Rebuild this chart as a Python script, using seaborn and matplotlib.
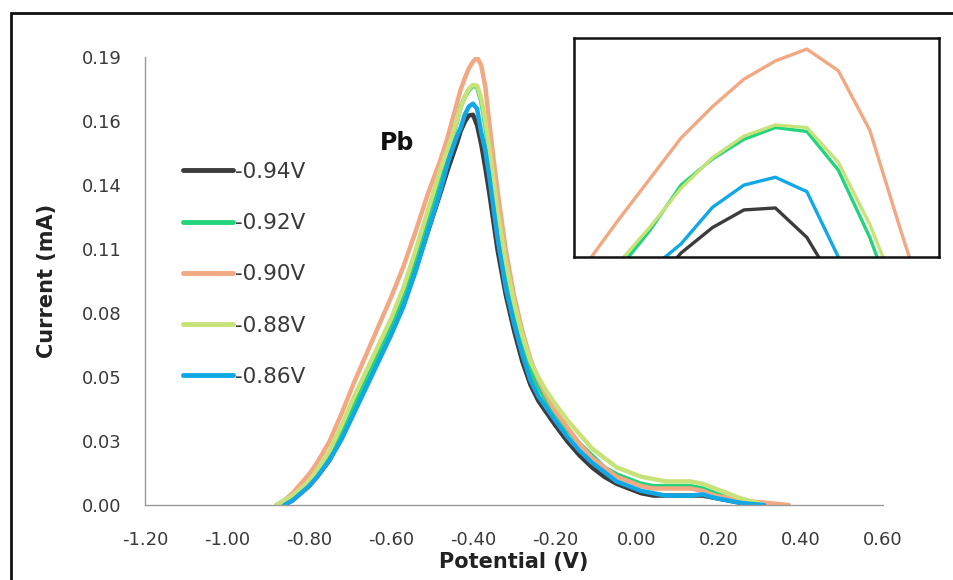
import numpy as np
import pandas as pd
import matplotlib
matplotlib.use("Agg")
import matplotlib.pyplot as plt
import seaborn as sns
from matplotlib.patches import Rectangle

nan = np.nan
potential = [-0.88, -0.86, -0.84, -0.82, -0.80, -0.78, -0.75, -0.72, -0.69, -0.66,
             -0.63, -0.60, -0.57, -0.54, -0.51, -0.48, -0.46, -0.45, -0.44, -0.43,
             -0.42, -0.41, -0.40, -0.39, -0.38, -0.37, -0.36, -0.35, -0.34, -0.32,
             -0.30, -0.28, -0.26, -0.24, -0.22, -0.20, -0.17, -0.14, -0.11, -0.08,
             -0.05, -0.02, 0.01, 0.04, 0.07, 0.10, 0.13, 0.16, 0.19, 0.22,
             0.25, 0.28, 0.31, 0.34, 0.37, 0.40]

i_094 = [nan, 0.000, 0.002, 0.005, 0.008, 0.012, 0.019, 0.029, 0.040, 0.051,
         0.062, 0.073, 0.085, 0.100, 0.116, 0.132, 0.143, 0.148, 0.153, 0.1586,
         0.1625, 0.1652, 0.1655, 0.1610, 0.1530, 0.143, 0.132, 0.120, 0.108, 0.089,
         0.074, 0.061, 0.051, 0.044, 0.039, 0.034, 0.027, 0.021, 0.016, 0.012,
         0.009, 0.007, 0.005, 0.004, 0.004, 0.004, 0.004, 0.004, 0.003, 0.002,
         0.001, 0.000, nan, nan, nan, nan]
i_092 = [nan, 0.001, 0.003, 0.006, 0.009, 0.013, 0.021, 0.031, 0.043, 0.054,
         0.065, 0.076, 0.089, 0.105, 0.122, 0.139, 0.150, 0.156, 0.162, 0.169,
         0.1730, 0.1760, 0.1778, 0.1772, 0.1713, 0.1610, 0.148, 0.134, 0.120, 0.098,
         0.082, 0.068, 0.057, 0.050, 0.044, 0.039, 0.032, 0.026, 0.021, 0.016,
         0.013, 0.011, 0.009, 0.008, 0.008, 0.008, 0.008, 0.007, 0.005, 0.003,
         0.0015, 0.0005, 0.000, nan, nan, nan]
i_090 = [0.000, 0.002, 0.005, 0.009, 0.013, 0.018, 0.027, 0.039, 0.052, 0.064,
         0.076, 0.088, 0.101, 0.116, 0.132, 0.146, 0.157, 0.1636, 0.1699, 0.1762,
         0.1810, 0.1852, 0.1880, 0.1898, 0.1865, 0.1774, 0.1618, 0.147, 0.133, 0.108,
         0.089, 0.074, 0.062, 0.053, 0.046, 0.040, 0.033, 0.026, 0.020, 0.016,
         0.012, 0.010, 0.008, 0.007, 0.007, 0.007, 0.007, 0.006, 0.004, 0.003,
         0.002, 0.0015, 0.001, 0.0005, 0.000, nan]
i_088 = [0.000, 0.002, 0.004, 0.007, 0.010, 0.015, 0.023, 0.034, 0.046, 0.057,
         0.068, 0.079, 0.092, 0.108, 0.125, 0.142, 0.152, 0.157, 0.1625, 0.1685,
         0.1732, 0.1765, 0.1782, 0.1778, 0.1725, 0.1630, 0.151, 0.138, 0.125, 0.103,
         0.086, 0.072, 0.061, 0.054, 0.048, 0.043, 0.036, 0.030, 0.024, 0.020,
         0.016, 0.014, 0.012, 0.011, 0.010, 0.010, 0.010, 0.009, 0.007, 0.005,
         0.003, 0.0015, 0.000, nan, nan, nan]
i_086 = [nan, 0.000, 0.002, 0.005, 0.008, 0.012, 0.019, 0.028, 0.039, 0.050,
         0.061, 0.072, 0.084, 0.099, 0.116, 0.133, 0.146, 0.151, 0.156, 0.160,
         0.1656, 0.1690, 0.1702, 0.1680, 0.1580, 0.1505, 0.139, 0.126, 0.113, 0.092,
         0.077, 0.064, 0.053, 0.046, 0.041, 0.036, 0.029, 0.023, 0.018, 0.014,
         0.010, 0.008, 0.006, 0.005, 0.004, 0.004, 0.004, 0.0045, 0.003, 0.002,
         0.001, 0.0004, 0.000, nan, nan, nan]

series_names = ["-0.94V", "-0.92V", "-0.90V", "-0.88V", "-0.86V"]
series_values = [i_094, i_092, i_090, i_088, i_086]
colors = ["#3c3c3c", "#22d47c", "#f2a882", "#c8e27a", "#12a8e6"]

x_ticks = [-1.20, -1.00, -0.80, -0.60, -0.40, -0.20, 0.00, 0.20, 0.40, 0.60]
y_tick_labels = ["0.00", "0.03", "0.05", "0.08", "0.11", "0.14", "0.16", "0.19"]

df = pd.concat([pd.DataFrame({"Potential": potential, "Current": v, "Scan": n})
                for n, v in zip(series_names, series_values)], ignore_index=True)
df = df.dropna()

sns.set_style("white")
plt.rcParams["font.family"] = ["DejaVu Sans"]

W, H = 954, 580
fig = plt.figure(figsize=(W / 100, H / 100), dpi=100)
fig.patch.set_facecolor("white")

ax = fig.add_axes([145 / W, 1 - 505 / H, (883 - 145) / W, (505 - 57) / H])
sns.lineplot(data=df, x="Potential", y="Current", hue="Scan", hue_order=series_names,
             palette=colors, estimator=None, sort=False, lw=3.2, ax=ax)
ax.set_xlim(-1.20, 0.60)
ax.set_ylim(0, 0.19)
ax.set_xticks(x_ticks)
ax.set_xticklabels([f"{t:.2f}" for t in x_ticks])
ax.set_yticks(np.linspace(0, 0.19, len(y_tick_labels)))
ax.set_yticklabels(y_tick_labels)
for s in ["top", "right"]:
    ax.spines[s].set_visible(False)
for s in ["left", "bottom"]:
    ax.spines[s].set_color("#9a9a9a")
    ax.spines[s].set_linewidth(1.0)
ax.tick_params(axis="both", direction="out", length=6, width=1, color="#9a9a9a",
               labelsize=13, labelcolor="#3a3a3a")
ax.tick_params(axis="x", pad=13)
ax.tick_params(axis="y", pad=11)
ax.set_xlabel("Potential (V)", fontsize=15, fontweight="bold", color="#222222", labelpad=2)
ax.set_ylabel("Current (mA)", fontsize=15, fontweight="bold", color="#222222", labelpad=18)

leg = ax.legend(loc="upper left", bbox_to_anchor=(183 / W, 1 - 162 / H),
                bbox_transform=fig.transFigure, frameon=False, fontsize=15.5,
                handlelength=2.3, handletextpad=0.1, labelspacing=1.45, borderpad=0,
                borderaxespad=0)
for t in leg.get_texts():
    t.set_color("#3a3a3a")
for h in leg.get_lines():
    h.set_linewidth(3.5)

ax.text(397 / W, 1 - 143 / H, "Pb", transform=fig.transFigure, fontsize=17,
        fontweight="bold", ha="center", va="center", color="#111111")

# inset
axi = fig.add_axes([574 / W, 1 - 257 / H, (939 - 574) / W, (257 - 38) / H])
sns.lineplot(data=df, x="Potential", y="Current", hue="Scan", hue_order=series_names,
             palette=colors, estimator=None, sort=False, lw=2.4, ax=axi, legend=False)
axi.set_xlim(-0.464, -0.348)
axi.set_ylim(0.158, 0.1915)
axi.set_xticks([])
axi.set_yticks([])
axi.set_xlabel("")
axi.set_ylabel("")
for s in axi.spines.values():
    s.set_visible(True)
    s.set_color("#111111")
    s.set_linewidth(1.8)

# outer frame
fig.patches.append(Rectangle((11 / W, -0.1), 1.2, 1 - 13 / H + 0.1, transform=fig.transFigure,
                             fill=False, edgecolor="#111111", linewidth=2))

fig.savefig("out.png", dpi=100)
